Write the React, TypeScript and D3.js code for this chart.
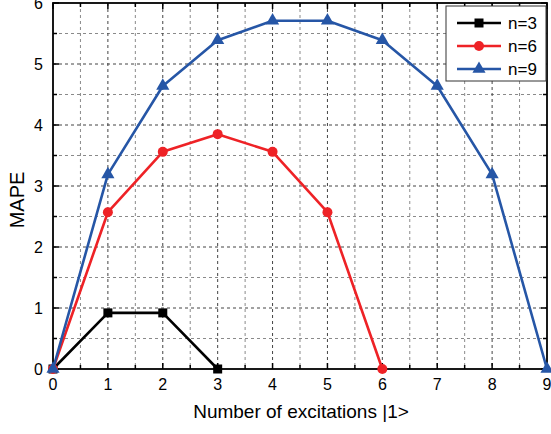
import { useEffect, useRef } from 'react';
import * as d3 from 'd3';

const xTicks = [0, 1, 2, 3, 4, 5, 6, 7, 8, 9];
const yTicks = [0, 1, 2, 3, 4, 5, 6];
const n3 = [0, 0.92, 0.92, 0];
const n6 = [0, 2.57, 3.56, 3.85, 3.56, 2.57, 0];
const n9 = [0, 3.19, 4.64, 5.39, 5.71, 5.71, 5.39, 4.64, 3.19, 0];
const seriesNames = ['n=3', 'n=6', 'n=9'];
const seriesColors = ['#000000', '#ee2226', '#2656a6'];
const seriesShapes = ['square', 'circle', 'triangle'];

const W = 551;
const H = 434;
const FONT = 'Liberation Sans, Arial, sans-serif';

const App = () => {
  const svgRef = useRef<SVGSVGElement>(null);

  useEffect(() => {
    if (!svgRef.current) return;
    const svg = d3.select(svgRef.current);
    svg.selectAll('*').remove();

    const margin = { top: 3, right: 4, bottom: 65, left: 53 };
    const width = W - margin.left - margin.right;
    const height = H - margin.top - margin.bottom;

    const x = d3.scaleLinear().domain([0, 9]).range([0, width]);
    const y = d3.scaleLinear().domain([0, 6]).range([height, 0]);

    const g = svg.append('g').attr('transform', `translate(${margin.left},${margin.top})`);

    // grid, minor then major
    const minorX = d3.range(0.5, 9, 1);
    const minorY = d3.range(0.5, 6, 1);
    g.append('g').selectAll('line').data(minorX).join('line')
      .attr('x1', d => x(d)).attr('x2', d => x(d)).attr('y1', 0).attr('y2', height)
      .attr('stroke', '#8a8a8a').attr('stroke-width', 1).attr('stroke-dasharray', '3,3');
    g.append('g').selectAll('line').data(minorY).join('line')
      .attr('y1', d => y(d)).attr('y2', d => y(d)).attr('x1', 0).attr('x2', width)
      .attr('stroke', '#8a8a8a').attr('stroke-width', 1).attr('stroke-dasharray', '3,3');
    g.append('g').selectAll('line').data(xTicks.slice(1, -1)).join('line')
      .attr('x1', d => x(d)).attr('x2', d => x(d)).attr('y1', 0).attr('y2', height)
      .attr('stroke', '#444').attr('stroke-width', 1).attr('stroke-dasharray', '3,3');
    g.append('g').selectAll('line').data(yTicks.slice(1, -1)).join('line')
      .attr('y1', d => y(d)).attr('y2', d => y(d)).attr('x1', 0).attr('x2', width)
      .attr('stroke', '#444').attr('stroke-width', 1).attr('stroke-dasharray', '3,3');

    // ticks inward on all four sides
    const allX = d3.range(0, 9.01, 0.5);
    const allY = d3.range(0, 6.01, 0.5);
    const tk = g.append('g').attr('stroke', '#000').attr('stroke-width', 1.5);
    allX.forEach(v => {
      const len = Number.isInteger(v) ? 6 : 4;
      tk.append('line').attr('x1', x(v)).attr('x2', x(v)).attr('y1', height).attr('y2', height - len);
      tk.append('line').attr('x1', x(v)).attr('x2', x(v)).attr('y1', 0).attr('y2', len);
    });
    allY.forEach(v => {
      const len = Number.isInteger(v) ? 6 : 4;
      tk.append('line').attr('y1', y(v)).attr('y2', y(v)).attr('x1', 0).attr('x2', len);
      tk.append('line').attr('y1', y(v)).attr('y2', y(v)).attr('x1', width).attr('x2', width - len);
    });

    g.append('rect').attr('x', 0).attr('y', 0).attr('width', width).attr('height', height)
      .attr('fill', 'none').attr('stroke', '#000').attr('stroke-width', 1.8);

    // tick labels
    g.append('g').selectAll('text').data(xTicks).join('text')
      .attr('x', d => x(d)).attr('y', height + 21)
      .attr('text-anchor', 'middle')
      .style('font-family', FONT).style('font-size', '16px').text(d => d);
    g.append('g').selectAll('text').data(yTicks).join('text')
      .attr('x', -10).attr('y', d => y(d) + 6)
      .attr('text-anchor', 'end')
      .style('font-family', FONT).style('font-size', '16px').text(d => d);

    svg.append('text')
      .attr('x', 301).attr('y', 418)
      .attr('text-anchor', 'middle')
      .style('font-family', FONT).style('font-size', '19px')
      .text('Number of excitations |1>');
    svg.append('text')
      .attr('transform', 'translate(24,200) rotate(-90)')
      .attr('text-anchor', 'middle')
      .style('font-family', FONT).style('font-size', '20px')
      .text('MAPE');

    const drawMarker = (sel: any, shape: string, color: string, cx: number, cy: number) => {
      if (shape === 'square') {
        sel.append('rect').attr('x', cx - 4.5).attr('y', cy - 4.5).attr('width', 9).attr('height', 9).attr('fill', color);
      } else if (shape === 'circle') {
        sel.append('circle').attr('cx', cx).attr('cy', cy).attr('r', 5).attr('fill', color);
      } else {
        sel.append('path')
          .attr('d', d3.symbol().type(d3.symbolTriangle).size(75)())
          .attr('transform', `translate(${cx},${cy})`).attr('fill', color);
      }
    };

    const line = d3.line<number>().x((_, i) => x(i)).y(d => y(d));
    const plot = g.append('g');
    [n3, n6, n9].forEach((data, s) => {
      plot.append('path').datum(data)
        .attr('fill', 'none').attr('stroke', seriesColors[s]).attr('stroke-width', 2.6)
        .attr('stroke-linejoin', 'round')
        .attr('d', line);
      data.forEach((v, i) => drawMarker(plot, seriesShapes[s], seriesColors[s], x(i), y(v)));
    });

    // legend
    const lg = svg.append('g').attr('transform', 'translate(446,6)');
    lg.append('rect').attr('x', 0).attr('y', 0).attr('width', 100).attr('height', 75)
      .attr('fill', '#fff').attr('stroke', '#333').attr('stroke-width', 1);
    seriesNames.forEach((name, s) => {
      const ly = 17 + s * 23;
      lg.append('line').attr('x1', 11).attr('x2', 55).attr('y1', ly).attr('y2', ly)
        .attr('stroke', seriesColors[s]).attr('stroke-width', 2.6);
      drawMarker(lg, seriesShapes[s], seriesColors[s], 33, ly);
      lg.append('text').attr('x', 62).attr('y', ly + 6)
        .style('font-family', FONT).style('font-size', '17px').text(name);
    });
  }, []);

  return <svg ref={svgRef} width={W} height={H} style={{ position: 'absolute', left: 0, top: 0 }} />;
};

export default App;
